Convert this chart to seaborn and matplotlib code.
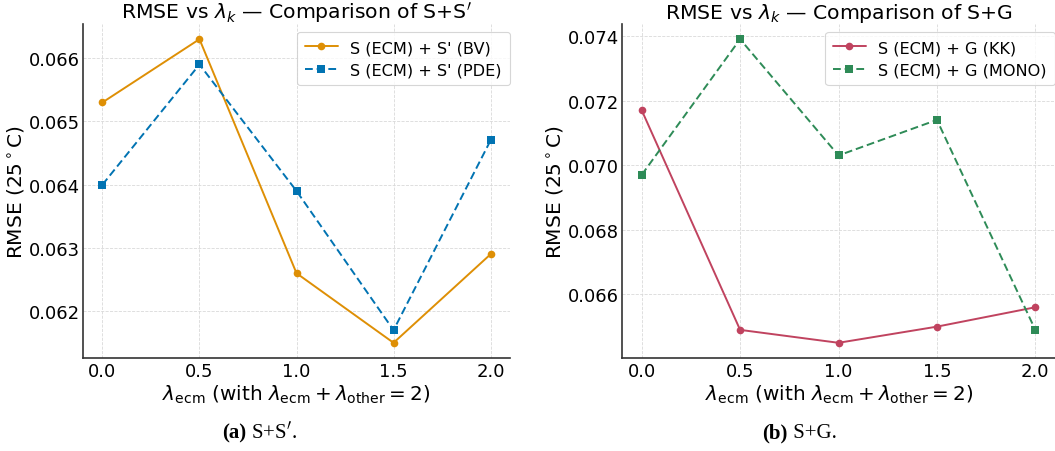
import numpy as np
import pandas as pd
import matplotlib
matplotlib.use("Agg")
import matplotlib.pyplot as plt
import seaborn as sns

# ---- data ----
lambda_ecm = [0.0, 0.5, 1.0, 1.5, 2.0]
x_ticks = [0.0, 0.5, 1.0, 1.5, 2.0]

bv_name = "S (ECM) + S' (BV)"
pde_name = "S (ECM) + S' (PDE)"
bv_rmse = [0.0653, 0.0663, 0.0626, 0.0615, 0.0629]
pde_rmse = [0.0640, 0.0659, 0.0639, 0.0617, 0.0647]

kk_name = "S (ECM) + G (KK)"
mono_name = "S (ECM) + G (MONO)"
kk_rmse = [0.0717, 0.0649, 0.0645, 0.0650, 0.0656]
mono_rmse = [0.0697, 0.0739, 0.0703, 0.0714, 0.0649]

left_yticks = [0.062, 0.063, 0.064, 0.065, 0.066]
right_yticks = [0.066, 0.068, 0.070, 0.072, 0.074]

titles = [r"RMSE vs $\lambda_k$ — Comparison of S+S$'$",
          r"RMSE vs $\lambda_k$ — Comparison of S+G"]
captions = [("(a)", r" S+S$'$."), ("(b)", " S+G.")]
xlabel = r"$\lambda_{\mathrm{ecm}}$ (with $\lambda_{\mathrm{ecm}} + \lambda_{\mathrm{other}} = 2$)"
ylabel = r"RMSE (25$^\circ$C)"

sns.set_theme(style="white")
plt.rcParams['font.family'] = ['DejaVu Sans']
plt.rcParams['mathtext.fontset'] = 'dejavusans'
for k in ["text.color", "axes.labelcolor", "xtick.color", "ytick.color"]:
    plt.rcParams[k] = "black"

fig = plt.figure(figsize=(10.55, 4.52), dpi=100)
ax1 = fig.add_axes([0.0787, 0.2058, 0.4047, 0.7389])
ax2 = fig.add_axes([0.5896, 0.2058, 0.4104, 0.7389])

def make_df(names, values):
    rows = []
    for n, v in zip(names, values):
        for x, y in zip(lambda_ecm, v):
            rows.append({"lam": x, "rmse": y, "series": n})
    return pd.DataFrame(rows)

panels = [
    (ax1, [bv_name, pde_name], [bv_rmse, pde_rmse], ["#de8f05", "#0173b2"], left_yticks),
    (ax2, [kk_name, mono_name], [kk_rmse, mono_rmse], ["#c0435f", "#2e8b57"], right_yticks),
]

for i, (ax, names, vals, cols, yt) in enumerate(panels):
    df = make_df(names, vals)
    sns.lineplot(data=df, x="lam", y="rmse", hue="series", style="series",
                 hue_order=names, style_order=names,
                 palette=dict(zip(names, cols)),
                 markers={names[0]: "o", names[1]: "s"},
                 dashes={names[0]: "", names[1]: (4, 2)},
                 markersize=5.5, markeredgewidth=0, linewidth=1.4, ax=ax)
    ax.set_xticks(x_ticks)
    ax.set_xticklabels([f"{t:.1f}" for t in x_ticks])
    ax.set_yticks(yt)
    ax.set_yticklabels([f"{t:.3f}" for t in yt])
    ax.tick_params(labelsize=13, length=0, pad=3)
    ax.tick_params(axis="y", pad=2)
    ax.grid(True, linestyle="--", linewidth=0.6, color="#d9d9d9")
    ax.set_axisbelow(True)
    for s in ["top", "right"]:
        ax.spines[s].set_visible(False)
    for s in ["left", "bottom"]:
        ax.spines[s].set_color("#333333")
        ax.spines[s].set_linewidth(1.2)
    ax.set_xlabel(xlabel, fontsize=14.4, labelpad=2)
    ax.set_ylabel(ylabel, fontsize=14.5, labelpad=2.5)
    ax.set_title(titles[i], fontsize=14.7, pad=4)
    leg = ax.legend(loc="upper right", fontsize=11.6, frameon=True, handlelength=2.0,
                    borderpad=0.5, labelspacing=0.45, borderaxespad=0,
                    bbox_to_anchor=(1.0, 0.976))
    leg.get_frame().set_edgecolor("#cccccc")
    leg.get_frame().set_linewidth(0.8)

# captions
fig.canvas.draw()
r = fig.canvas.get_renderer()
cap_centers = [0.246, 0.758]
for (bold, rest), cx in zip(captions, cap_centers):
    t1 = fig.text(0, 0.031, bold, fontsize=15, fontweight="bold",
                  family=["Liberation Serif"], va="baseline")
    t2 = fig.text(0, 0.031, rest, fontsize=15, family=["Liberation Serif"], va="baseline")
    w1 = t1.get_window_extent(r).width / fig.bbox.width
    w2 = t2.get_window_extent(r).width / fig.bbox.width
    x0 = cx - (w1 + w2) / 2
    t1.set_x(x0)
    t2.set_x(x0 + w1)

fig.savefig("out.png", dpi=100)
